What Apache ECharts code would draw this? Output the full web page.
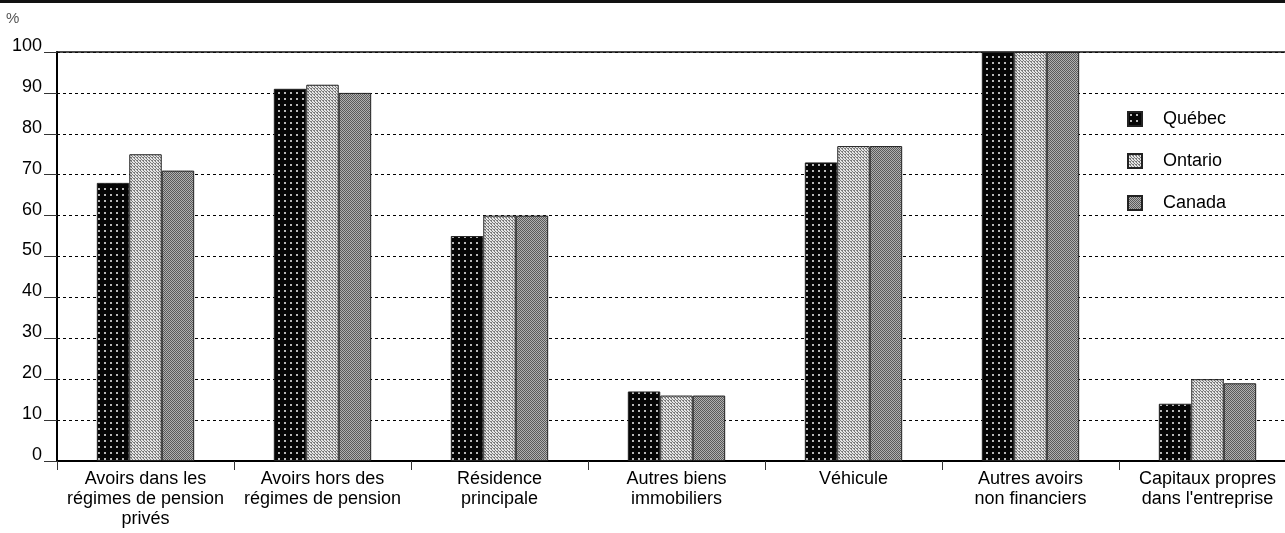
<!DOCTYPE html>
<html><head><meta charset="utf-8">
<script src="https://cdn.jsdelivr.net/npm/echarts@6/dist/echarts.min.js"></script>
<style>html,body{margin:0;padding:0;background:#fff}#c{width:1285px;height:533px}</style>
</head><body><div id="c"></div>
<script>
var categories = ["Avoirs dans les\nrégimes de pension\nprivés","Avoirs hors des\nrégimes de pension","Résidence\nprincipale","Autres biens\nimmobiliers","Véhicule","Autres avoirs\nnon financiers","Capitaux propres\ndans l'entreprise"];
var quebec = [68, 91, 55, 17, 73, 100, 14];
var ontario = [75, 92, 60, 16, 77, 100, 20];
var canada = [71, 90, 60, 16, 77, 100, 19];
var yTicks = [0,10,20,30,40,50,60,70,80,90,100];

function pat(size, draw){
  var c = document.createElement('canvas'); c.width = size; c.height = size;
  var g = c.getContext('2d'); draw(g); return {image: c, repeat: 'repeat'};
}
var pQ = pat(6, function(g){ g.fillStyle='#050505'; g.fillRect(0,0,6,6); g.fillStyle='#b8b8b8'; g.fillRect(2,2,2,2); });
var pO = pat(6, function(g){ g.fillStyle='#e6e6e6'; g.fillRect(0,0,6,6); g.fillStyle='#7c7c7c';
  g.fillRect(0,0,1,1); g.fillRect(3,0,1,1); g.fillRect(1,1,2,1); g.fillRect(4,1,2,1); g.fillRect(0,3,1,1); g.fillRect(3,3,1,1); g.fillRect(1,4,2,1); g.fillRect(4,4,2,1); g.fillRect(2,2,1,1); g.fillRect(5,2,1,1); g.fillRect(2,5,1,1); g.fillRect(5,5,1,1); });
var pC = pat(2, function(g){ g.fillStyle='#b0b0b0'; g.fillRect(0,0,2,2); g.fillStyle='#5a5a5a'; g.fillRect(0,0,1,1); g.fillRect(1,1,1,1); });

var chart = echarts.init(document.getElementById('c'));
var font = 'Liberation Sans, Arial, sans-serif';
function bar(name, data, p){
  return {name:name, type:'bar', data:data, barGap:'0%', barCategoryGap:'45%',
    itemStyle:{color:p, borderColor:'#222', borderWidth:1}};
}
chart.setOption({
  animation:false,
  textStyle:{fontFamily:font},
  graphic:[
    {type:'rect', shape:{x:0,y:0,width:1285,height:3}, style:{fill:'#111'}},
    {type:'text', left:6, top:11, style:{text:'%', fill:'#555', font:'15px '+font}}
  ],
  legend:{orient:'vertical', left:1122, top:105, itemWidth:14, itemHeight:14, itemGap:24,
    textStyle:{fontSize:18, lineHeight:14, color:'#000', fontFamily:font, padding:[0,0,0,16]}, icon:'rect',
    data:['Québec','Ontario','Canada']},
  grid:{left:57, top:52, width:1239, height:409, containLabel:false, outerBoundsMode:'none'},
  xAxis:[{type:'category', data:categories, position:'bottom',
    axisLine:{lineStyle:{color:'#000', width:2}},
    axisTick:{show:true, length:9, lineStyle:{color:'#333', width:1}},
    axisLabel:{color:'#000', fontSize:18, lineHeight:20, margin:8, interval:0, fontFamily:font}},
   {type:'category', data:categories, position:'top',
    axisLine:{lineStyle:{color:'#111', width:1.5}}, axisTick:{show:false}, axisLabel:{show:false}}],
  yAxis:{type:'value', min:0, max:100, interval:10,
    axisLine:{show:true, lineStyle:{color:'#000', width:2}},
    axisTick:{show:true, length:13, lineStyle:{color:'#333'}},
    axisLabel:{color:'#000', fontSize:18, margin:15, fontFamily:font, verticalAlign:'bottom', lineHeight:12,
      formatter:function(v){return yTicks.indexOf(v)>=0?String(v):'';}},
    splitLine:{show:true, lineStyle:{color:'#000', type:[3,3], width:1}}},
  series:[bar('Québec', quebec, pQ), bar('Ontario', ontario, pO), bar('Canada', canada, pC)]
});
</script></body></html>
